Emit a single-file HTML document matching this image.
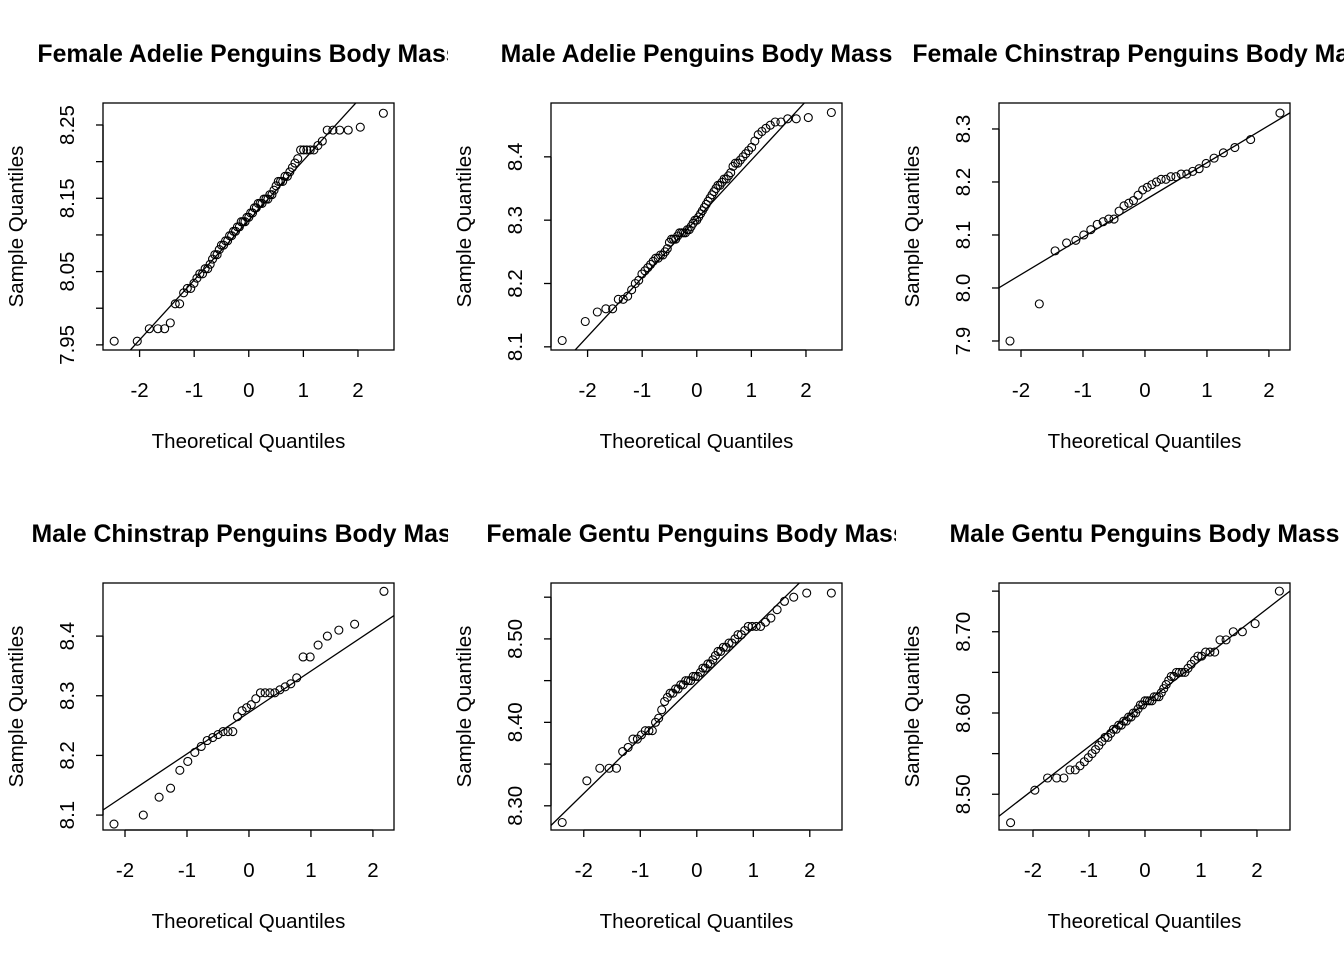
<!DOCTYPE html>
<html><head><meta charset="utf-8">
<style>
html,body{margin:0;padding:0;background:#fff;}
svg text{font-family:"Liberation Sans",Arial,sans-serif;fill:#000;}
</style></head>
<body>
<svg id="root" width="1344" height="960" xmlns="http://www.w3.org/2000/svg"></svg>
<script>
// ---- data (sorted sample values, log body mass) ----
const adelieFemale = [7.955,7.955,7.972,7.972,7.972,7.980,8.006,8.006,8.021,8.027,
8.027,8.034,8.041,8.047,8.047,8.054,8.054,8.060,8.067,8.073,
8.073,8.080,8.086,8.086,8.092,8.092,8.099,8.099,8.105,8.105,
8.111,8.111,8.118,8.118,8.118,8.124,8.124,8.130,8.130,8.137,
8.137,8.143,8.143,8.143,8.149,8.149,8.149,8.155,8.155,8.161,
8.167,8.173,8.173,8.173,8.180,8.180,8.186,8.192,8.198,8.204,
8.216,8.216,8.216,8.216,8.216,8.222,8.228,8.243,8.243,8.243,
8.243,8.247,8.266];
const adelieMale = [8.110,8.140,8.155,8.160,8.160,8.175,8.175,8.180,8.190,8.200,
8.205,8.215,8.220,8.225,8.230,8.235,8.240,8.240,8.245,8.245,
8.250,8.255,8.265,8.270,8.270,8.270,8.275,8.280,8.280,8.280,
8.280,8.285,8.285,8.290,8.295,8.300,8.300,8.305,8.310,8.315,
8.320,8.325,8.330,8.335,8.340,8.345,8.350,8.355,8.355,8.360,
8.365,8.365,8.370,8.375,8.385,8.390,8.390,8.395,8.400,8.405,
8.410,8.415,8.425,8.435,8.440,8.445,8.450,8.455,8.455,8.460,
8.460,8.462,8.470];
const chinstrapFemale = [7.900,7.970,8.070,8.085,8.090,8.100,8.110,8.120,8.125,8.130,
8.130,8.145,8.155,8.160,8.165,8.175,8.185,8.190,8.195,8.200,
8.205,8.205,8.210,8.210,8.215,8.215,8.220,8.225,8.235,8.245,
8.255,8.265,8.280,8.330];
const chinstrapMale = [8.085,8.100,8.130,8.145,8.175,8.190,8.205,8.215,8.225,8.230,
8.235,8.240,8.240,8.240,8.265,8.275,8.280,8.285,8.295,8.305,
8.305,8.305,8.305,8.310,8.315,8.320,8.330,8.365,8.365,8.385,
8.400,8.410,8.420,8.475];
const gentooFemale = [8.280,8.330,8.345,8.345,8.345,8.365,8.370,8.380,8.380,8.385,
8.390,8.390,8.390,8.400,8.405,8.415,8.425,8.430,8.435,8.435,
8.440,8.440,8.445,8.445,8.450,8.450,8.450,8.455,8.455,8.455,
8.460,8.465,8.465,8.470,8.470,8.475,8.480,8.485,8.485,8.490,
8.490,8.495,8.495,8.500,8.505,8.505,8.510,8.515,8.515,8.515,
8.515,8.520,8.525,8.535,8.545,8.550,8.555,8.555];
const gentooMale = [8.465,8.505,8.520,8.520,8.520,8.530,8.530,8.535,8.540,8.545,
8.550,8.555,8.560,8.565,8.570,8.570,8.575,8.580,8.580,8.585,
8.585,8.590,8.590,8.595,8.595,8.600,8.600,8.605,8.610,8.610,
8.615,8.615,8.615,8.615,8.620,8.620,8.620,8.625,8.630,8.635,
8.640,8.645,8.645,8.650,8.650,8.650,8.650,8.655,8.660,8.665,
8.670,8.670,8.675,8.675,8.675,8.690,8.690,8.700,8.700,8.710,8.750];
const titles = ["Female Adelie Penguins Body Mass","Male Adelie Penguins Body Mass","Female Chinstrap Penguins Body Mass","Male Chinstrap Penguins Body Mass","Female Gentu Penguins Body Mass","Male Gentu Penguins Body Mass"];
const xTicks = [-2,-1,0,1,2];
const yTicks1 = [7.95,8.00,8.05,8.10,8.15,8.20,8.25];
const yLabels1 = ["7.95","","8.05","","8.15","","8.25"];
const yTicks2 = [8.1,8.2,8.3,8.4];
const yLabels2 = ["8.1","8.2","8.3","8.4"];
const yTicks3 = [7.9,8.0,8.1,8.2,8.3];
const yLabels3 = ["7.9","8.0","8.1","8.2","8.3"];
const yTicks4 = [8.1,8.2,8.3,8.4];
const yLabels4 = ["8.1","8.2","8.3","8.4"];
const yTicks5 = [8.30,8.35,8.40,8.45,8.50,8.55];
const yLabels5 = ["8.30","","8.40","","8.50",""];
const yTicks6 = [8.50,8.55,8.60,8.65,8.70,8.75];
const yLabels6 = ["8.50","","8.60","","8.70",""];
// qq reference lines: [intercept, slope]
const lineFit1 = [8.120,0.0816];
const lineFit2 = [8.302,0.0929];
const lineFit3 = [8.166,0.0703];
const lineFit4 = [8.272,0.0694];
const lineFit5 = [8.447,0.0661];
const lineFit6 = [8.612,0.0533];

const panels = [
 {data:adelieFemale, yt:yTicks1, yl:yLabels1, fit:lineFit1, xd:[-2.67,2.66], yd:[7.943,8.280], ox:0, oy:0},
 {data:adelieMale, yt:yTicks2, yl:yLabels2, fit:lineFit2, xd:[-2.67,2.66], yd:[8.095,8.485], ox:448, oy:0},
 {data:chinstrapFemale, yt:yTicks3, yl:yLabels3, fit:lineFit3, xd:[-2.355,2.34], yd:[7.883,8.349], ox:896, oy:0},
 {data:chinstrapMale, yt:yTicks4, yl:yLabels4, fit:lineFit4, xd:[-2.355,2.34], yd:[8.075,8.489], ox:0, oy:480},
 {data:gentooFemale, yt:yTicks5, yl:yLabels5, fit:lineFit5, xd:[-2.58,2.57], yd:[8.271,8.567], ox:448, oy:480},
 {data:gentooMale, yt:yTicks6, yl:yLabels6, fit:lineFit6, xd:[-2.607,2.59], yd:[8.456,8.760], ox:896, oy:480}
];

function qnorm(p){
 const a=[-3.969683028665376e+01,2.209460984245205e+02,-2.759285104469687e+02,1.383577518672690e+02,-3.066479806614716e+01,2.506628277459239e+00];
 const b=[-5.447609879822406e+01,1.615858368580409e+02,-1.556989798598866e+02,6.680131188771972e+01,-1.328068155288572e+01];
 const c=[-7.784894002430293e-03,-3.223964580411365e-01,-2.400758277161838e+00,-2.549671348194377e+00,4.374664141464968e+00,2.938163982698783e+00];
 const d=[7.784695709041462e-03,3.224671290700398e-01,2.445134137142996e+00,3.754408661907416e+00];
 const pl=0.02425;let q,r;
 if(p<pl){q=Math.sqrt(-2*Math.log(p));return (((((c[0]*q+c[1])*q+c[2])*q+c[3])*q+c[4])*q+c[5])/((((d[0]*q+d[1])*q+d[2])*q+d[3])*q+1);}
 if(p>1-pl){q=Math.sqrt(-2*Math.log(1-p));return -(((((c[0]*q+c[1])*q+c[2])*q+c[3])*q+c[4])*q+c[5])/((((d[0]*q+d[1])*q+d[2])*q+d[3])*q+1);}
 q=p-0.5;r=q*q;return (((((a[0]*r+a[1])*r+a[2])*r+a[3])*r+a[4])*r+a[5])*q/(((((b[0]*r+b[1])*r+b[2])*r+b[3])*r+b[4])*r+1);
}
const NS="http://www.w3.org/2000/svg";
function mk(parent,tag,attrs){const e=document.createElementNS(NS,tag);for(const k in attrs)e.setAttribute(k,attrs[k]);parent.appendChild(e);return e;}
const root=document.getElementById('root');
const L=103,R=394,T=103,B=350;

panels.forEach((P,pi)=>{
 const fig=mk(root,'svg',{x:P.ox,y:P.oy,width:448,height:480,overflow:'hidden'});
 
 
 const sx=v=>L+(v-P.xd[0])/(P.xd[1]-P.xd[0])*(R-L);
 const sy=v=>B-(v-P.yd[0])/(P.yd[1]-P.yd[0])*(B-T);
 const t=mk(fig,'text',{x:(L+R)/2,y:62,'text-anchor':'middle','font-size':'24.8','font-weight':'bold'});
 t.textContent=titles[pi];
 
 
 const cid='clip'+pi;
 const cp=mk(mk(fig,'defs',{}),'clipPath',{id:cid});
 mk(cp,'rect',{x:L,y:T,width:R-L,height:B-T});
 const box=mk(fig,'rect',{x:L,y:T,width:R-L,height:B-T,fill:'none',stroke:'#000','stroke-width':1.3});
 
 
 const xa=mk(fig,'g',{});
 
 
 mk(xa,'line',{x1:sx(xTicks[0]),x2:sx(xTicks[xTicks.length-1]),y1:B,y2:B,stroke:'#000','stroke-width':1.3});
 xTicks.forEach(v=>{
  mk(xa,'line',{x1:sx(v),x2:sx(v),y1:B,y2:B+7,stroke:'#000','stroke-width':1.3});
  const tl=mk(xa,'text',{x:sx(v),y:397,'text-anchor':'middle','font-size':'20.5'});
  tl.textContent=String(v);
  
  
 });
 const xt=mk(fig,'text',{x:(L+R)/2,y:448,'text-anchor':'middle','font-size':'20.5'});
 xt.textContent='Theoretical Quantiles';
 
 
 const ya=mk(fig,'g',{});
 
 
 mk(ya,'line',{x1:L,x2:L,y1:sy(P.yt[0]),y2:sy(P.yt[P.yt.length-1]),stroke:'#000','stroke-width':1.3});
 P.yt.forEach((v,i)=>{
  mk(ya,'line',{x1:L-7,x2:L,y1:sy(v),y2:sy(v),stroke:'#000','stroke-width':1.3});
  if(P.yl[i]){
   const tl=mk(ya,'text',{x:0,y:0,'text-anchor':'middle','font-size':'20.5',transform:`translate(74,${sy(v)}) rotate(-90)`});
   tl.textContent=P.yl[i];
   
   
  }
 });
 const yt=mk(fig,'text',{x:0,y:0,'text-anchor':'middle','font-size':'20.5',transform:`translate(23,${(T+B)/2}) rotate(-90)`});
 yt.textContent='Sample Quantiles';
 
 
 const x0=P.xd[0]-1,x1=P.xd[1]+1;
 const ln=mk(fig,'line',{x1:sx(x0),y1:sy(P.fit[0]+P.fit[1]*x0),x2:sx(x1),y2:sy(P.fit[0]+P.fit[1]*x1),stroke:'#000','stroke-width':1.3,'clip-path':`url(#${cid})`});
 
 
 const n=P.data.length;
 const pts=mk(fig,'g',{});
 
 
 P.data.forEach((v,i)=>{
  const q=qnorm((i+1-0.5)/n);
  const c=mk(pts,'circle',{cx:sx(q),cy:sy(v),r:4,fill:'none',stroke:'#000','stroke-width':1.1});
  
  
 });
});
</script>
</body></html>
